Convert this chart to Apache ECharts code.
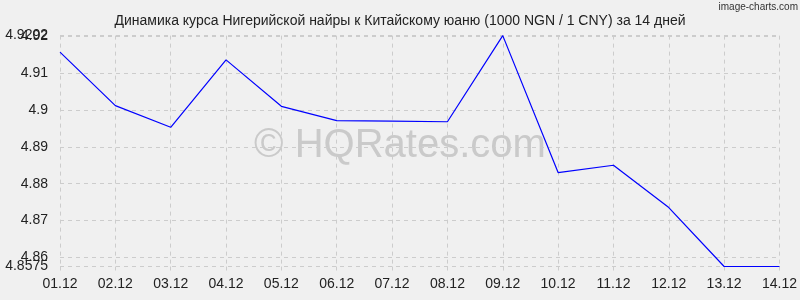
<!DOCTYPE html>
<html>
<head>
<meta charset="utf-8">
<script src="https://cdn.jsdelivr.net/npm/echarts@6/dist/echarts.min.js"></script>
<style>
html,body{margin:0;padding:0;background:#f0f0f0;}
#chart{width:800px;height:300px;}
</style>
</head>
<body>
<div id="chart"></div>
<script>
var titleText = 'Динамика курса Нигерийской найры к Китайскому юаню (1000 NGN / 1 CNY) за 14 дней';
var categories = ['01.12','02.12','03.12','04.12','05.12','06.12','07.12','08.12','09.12','10.12','11.12','12.12','13.12','14.12'];
var rates = [4.9157, 4.9012, 4.8953, 4.9136, 4.9010, 4.8971, 4.8970, 4.8968, 4.9202, 4.8830, 4.8850, 4.8735, 4.8575, 4.8575];
var yMin = 4.8575;
var yMax = 4.9202;
var yTicks = [4.8575, 4.86, 4.87, 4.88, 4.89, 4.9, 4.91, 4.92, 4.9202];
var yRoundTicks = [4.86, 4.87, 4.88, 4.89, 4.9, 4.91, 4.92];
var yEndTicks = [4.8575, 4.9202];

function fmt(v) { return String(+(+v).toFixed(4)); }
var labelFont = {fontFamily: 'Liberation Sans, Arial, sans-serif', fontSize: 14, color: '#222'};

var chart = echarts.init(document.getElementById('chart'), null, {renderer:'canvas'});
chart.setOption({
  backgroundColor: '#f0f0f0',
  animation: false,
  title: {
    text: titleText,
    left: 'center',
    top: 9,
    textStyle: {fontFamily: 'Liberation Sans, Arial, sans-serif', fontSize: 14, fontWeight: 'normal', color: '#222'}
  },
  graphic: [
    {
      type: 'text', right: 2, top: 2,
      style: {text: 'image-charts.com', font: '10px "Liberation Sans", Arial, sans-serif', fill: '#333'}
    },
    {
      type: 'text', left: 'center', top: 126, z: 0,
      style: {text: '© HQRates.com', font: '40px "Liberation Sans", Arial, sans-serif', fill: '#cacaca'}
    }
  ],
  grid: {left: 60, right: 20, top: 35.6, bottom: 33.5, containLabel: false},
  xAxis: {
    type: 'category',
    data: categories,
    boundaryGap: false,
    axisLine: {show: false},
    axisTick: {show: true, length: 4, lineStyle: {color: '#cccccc', type: [4, 4]}},
    axisLabel: Object.assign({margin: 11}, labelFont),
    splitLine: {show: true, lineStyle: {color: '#cccccc', type: [4, 4], width: 1}}
  },
  yAxis: [
    {
      type: 'value',
      min: yMin,
      max: yMax,
      axisLine: {show: false},
      axisTick: {show: false, customValues: yTicks},
      axisLabel: Object.assign({customValues: yRoundTicks, margin: 12, formatter: fmt, hideOverlap: false}, labelFont),
      splitLine: {show: true, lineStyle: {color: '#cccccc', type: [4, 4], width: 1}}
    },
    {
      type: 'value',
      position: 'left',
      min: yMin,
      max: yMax,
      axisLine: {show: false},
      axisTick: {show: false, customValues: yEndTicks},
      axisLabel: Object.assign({customValues: yEndTicks, margin: 12, formatter: fmt, showMinLabel: true, showMaxLabel: true, hideOverlap: false}, labelFont),
      splitLine: {show: false}
    }
  ],
  series: [{
    type: 'line',
    data: rates,
    yAxisIndex: 0,
    showSymbol: false,
    symbol: 'none',
    lineStyle: {color: '#0000ff', width: 1.2},
    z: 5
  }]
});
</script>
</body>
</html>
